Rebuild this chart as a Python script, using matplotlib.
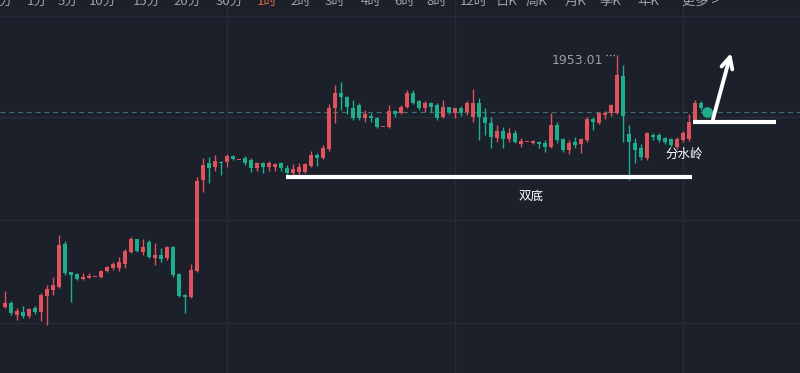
import matplotlib
matplotlib.use("Agg")
import matplotlib.pyplot as plt
from matplotlib.lines import Line2D
import numpy as np

# ---- data ----
opens = [1827.0,1829.0,1823.0,1824.5,1822.5,1826.5,1824.5,1832.5,1835.5,1837.0,
         1858.5,1844.5,1843.5,1841.0,1841.5,1842.0,1842.0,1845.0,1846.5,1846.5,
         1848.5,1854.5,1861.0,1854.5,1859.5,1851.5,1853.0,1851.5,1857.0,1843.5,
         1833.0,1832.0,1845.0,1890.5,1899.0,1897.0,1899.5,1899.5,1902.5,1900.5,
         1901.5,1900.5,1896.5,1899.0,1897.0,1897.0,1899.0,1896.5,1894.0,1894.5,
         1894.5,1897.5,1903.0,1901.5,1906.0,1926.5,1934.0,1932.0,1926.5,1928.0,
         1921.5,1922.5,1921.5,1917.0,1917.0,1925.0,1924.0,1927.0,1934.0,1930.0,
         1926.5,1929.0,1928.0,1922.0,1927.0,1924.0,1926.5,1924.5,1922.0,1929.0,
         1922.0,1919.0,1911.5,1915.0,1911.0,1914.0,1908.5,1909.5,1909.0,1909.5,
         1909.0,1907.0,1918.0,1911.0,1905.5,1909.5,1908.5,1910.5,1921.0,1919.0,
         1923.0,1924.0,1924.0,1942.5,1913.5,1909.0,1906.5,1901.5,1913.0,1913.0,
         1911.5,1911.0,1907.0,1910.5,1911.0,1920.5,1929.0]
closes = [1829.0,1824.0,1825.0,1822.5,1826.0,1824.5,1833.0,1836.0,1838.0,1858.0,
          1844.0,1843.0,1841.0,1842.0,1842.5,1842.0,1845.0,1847.0,1848.5,1849.5,
          1855.0,1861.0,1855.0,1857.0,1852.0,1853.0,1851.0,1857.0,1843.0,1832.5,
          1832.0,1845.5,1890.0,1898.0,1896.5,1900.0,1899.0,1902.5,1901.0,1900.5,
          1899.0,1896.5,1899.0,1897.0,1899.0,1898.5,1896.5,1894.0,1896.0,1897.0,
          1898.5,1903.0,1901.5,1906.5,1926.5,1934.0,1932.0,1927.0,1921.5,1921.5,
          1923.5,1921.5,1917.0,1917.0,1925.0,1923.5,1927.0,1934.0,1929.0,1926.5,
          1929.0,1927.0,1921.5,1927.0,1924.5,1926.5,1924.0,1929.0,1929.0,1922.0,
          1919.0,1912.0,1915.0,1911.0,1914.0,1909.5,1910.0,1909.5,1910.0,1908.5,
          1907.0,1918.0,1910.5,1905.5,1909.0,1908.0,1911.0,1921.0,1919.5,1924.0,
          1924.0,1928.0,1943.0,1922.5,1909.5,1905.5,1902.0,1914.0,1912.0,1910.5,
          1909.5,1908.0,1911.0,1914.0,1919.5,1929.0,1926.5]
highs = [1835.0,1830.0,1826.5,1827.5,1826.5,1827.5,1834.0,1838.0,1842.0,1863.0,
         1860.0,1844.5,1844.0,1844.0,1844.0,1842.2,1845.5,1847.5,1849.5,1852.0,
         1856.0,1862.0,1861.0,1861.0,1860.5,1859.0,1856.5,1857.5,1857.5,1844.0,
         1833.5,1848.5,1892.0,1901.5,1902.0,1903.0,1900.0,1903.5,1903.0,1900.7,
         1902.5,1901.5,1899.5,1899.5,1900.0,1899.0,1899.5,1898.0,1898.5,1899.0,
         1899.0,1905.0,1904.0,1908.0,1928.5,1938.0,1939.5,1932.5,1930.5,1929.0,
         1925.5,1924.0,1922.0,1917.2,1928.0,1925.5,1928.0,1935.5,1935.5,1930.5,
         1930.0,1929.5,1929.0,1930.5,1927.0,1926.5,1927.5,1930.0,1936.0,1931.5,
         1926.5,1922.0,1918.0,1917.0,1916.5,1915.5,1911.5,1909.7,1910.5,1910.0,
         1910.5,1924.0,1919.5,1911.5,1910.5,1912.0,1911.5,1922.0,1922.0,1924.5,
         1925.0,1928.5,1953.01,1948.0,1918.0,1911.5,1908.5,1914.5,1914.0,1914.0,
         1912.0,1911.5,1912.0,1915.0,1923.5,1930.5,1930.0]
lows = [1826.5,1823.0,1820.5,1821.5,1821.5,1823.5,1820.0,1818.0,1833.0,1836.5,
        1843.0,1829.5,1840.5,1840.5,1841.5,1841.8,1841.5,1844.5,1845.5,1845.0,
        1846.5,1854.0,1854.5,1853.0,1851.5,1848.0,1849.5,1850.5,1842.0,1832.0,
        1824.0,1831.5,1844.5,1884.5,1889.0,1895.0,1893.0,1897.0,1900.5,1900.3,
        1898.0,1894.5,1895.0,1894.0,1895.0,1895.0,1895.0,1893.5,1893.0,1893.0,
        1894.0,1897.0,1897.5,1901.0,1905.0,1919.0,1925.5,1923.5,1920.5,1920.5,
        1919.5,1919.5,1916.5,1916.8,1916.5,1922.0,1923.5,1926.5,1928.5,1925.5,
        1924.5,1924.5,1920.5,1921.5,1923.5,1921.5,1922.5,1923.0,1919.5,1910.5,
        1913.0,1906.5,1909.5,1906.5,1909.5,1909.0,1907.0,1909.3,1908.5,1906.5,
        1904.5,1906.5,1909.0,1904.5,1903.5,1906.5,1904.0,1909.5,1915.5,1918.5,
        1921.0,1922.5,1923.5,1909.5,1890.5,1899.0,1900.5,1900.5,1910.5,1909.5,
        1908.5,1907.0,1906.0,1909.5,1910.0,1919.5,1925.5]
last_price = 1924.5
high_label = "1953.01"
double_bottom_level = 1892.0
watershed_level = 1919.5
period_labels = ["分", "1分", "5分", "10分", "15分", "20分", "30分", "1时", "2时", "3时",
                 "4时", "6时", "8时", "12时", "日K", "周K", "月K", "季K", "年K", "更多 >"]
period_active = "1时"

# ---- style ----
BG = "#1b202b"
GRID = "#262c38"
RED = "#e0525c"
GREEN = "#1fae8c"
W, H = 800, 373

fig = plt.figure(figsize=(W / 100, H / 100), dpi=100)
fig.patch.set_facecolor(BG)
ax = fig.add_axes([0, 0, 1, 1])
ax.set_facecolor(BG)

# pixel helpers (x: candle index, spacing 6px starting at px 5)
def px2i(px):
    return (px - 5) / 6.0

def py2p(py):
    return 1980.5 - py / 2.0

ax.set_xlim(px2i(0), px2i(W))
ax.set_ylim(py2p(H), py2p(0))

n = len(opens)
idx = np.arange(n)
o = np.array(opens); c = np.array(closes); h = np.array(highs); l = np.array(lows)
up = c >= o
cols = np.where(up, RED, GREEN)

# grid
ax.set_xticks([px2i(227), px2i(455), px2i(683)])
ax.set_yticks([py2p(117), py2p(220), py2p(323)])
ax.grid(True, color=GRID, lw=1.0)
ax.tick_params(length=0, labelleft=False, labelbottom=False)
for s in ax.spines.values():
    s.set_visible(False)

# price dashed line
ax.axhline(last_price, color="#3d6e6b", lw=0.9, ls=(0, (4, 3)), zorder=2)

# candles
ax.vlines(idx, l, h, colors=cols, lw=1.0, zorder=3)
body_b = np.minimum(o, c)
body_h = np.maximum(np.abs(c - o), 0.5)
ax.bar(idx, body_h, bottom=body_b, width=0.7, color=cols, edgecolor=cols, lw=0, zorder=4)

# last price dot
ax.scatter([n], [last_price], s=45, color=GREEN, zorder=5)

# top separator
fig.add_artist(Line2D([0, 1], [1 - 16 / H, 1 - 16 / H], color="#252b36", lw=1.0))
# period tabs (cut off at top, as in the reference screenshot)
centers = [5, 37, 68, 103, 147, 187, 230, 267, 301, 335, 371, 405, 437, 474, 507, 537, 576, 610, 648, 700]
for lab, cx in zip(period_labels, centers):
    fig.text(cx / W, 1 - 4.5 / H, lab, ha="center", va="baseline", fontsize=9.5,
             color=("#e2673f" if lab == period_active else "#9da2aa"),
             family=["Noto Sans CJK SC", "DejaVu Sans"])

# high annotation
hi_i = int(np.argmax(h))
ax.text(px2i(603), py2p(60), high_label, ha="right", va="center", fontsize=9,
        color="#9aa0a9", family="DejaVu Sans")
ax.plot([px2i(606), hi_i - 0.3], [h[hi_i], h[hi_i]], color="#9aa0a9", lw=1.0, ls=(0, (1, 1.5)))

# double-bottom line and label
ax.plot([px2i(286), px2i(692)], [double_bottom_level, double_bottom_level], color="white", lw=3.0, solid_capstyle="butt", zorder=6)
ax.text(px2i(531), py2p(196), "双底", ha="center", va="center", fontsize=9, color="white",
        family=["Noto Sans CJK SC", "DejaVu Sans"], zorder=6)

# watershed line and label
ax.plot([px2i(693), px2i(776)], [watershed_level, watershed_level], color="white", lw=3.0, solid_capstyle="butt", zorder=6)
ax.text(px2i(684), py2p(154), "分水岭", ha="center", va="center", fontsize=9, color="white",
        family=["Noto Sans CJK SC", "DejaVu Sans"], zorder=6)

# arrow
ax.annotate("", xy=(px2i(731), py2p(53)), xytext=(px2i(713), py2p(119)),
            arrowprops=dict(arrowstyle="->", color="white", lw=2.8, mutation_scale=20,
                            shrinkA=0, shrinkB=0), zorder=7)

fig.savefig("out.png", dpi=100, facecolor=BG)
